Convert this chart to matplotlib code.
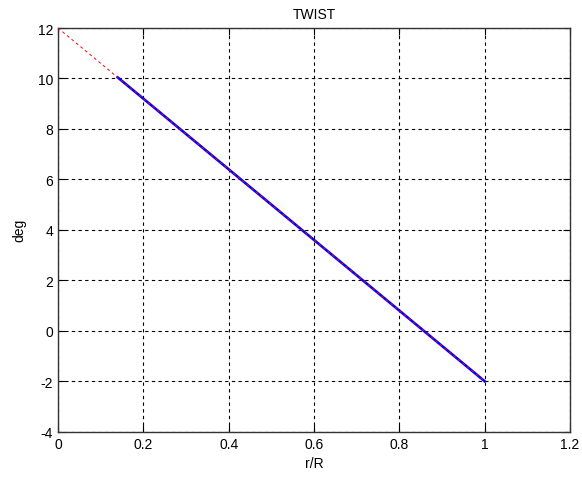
import matplotlib.pyplot as plt

# dados
r_ext = [0.0, 1.0]
twist_ext = [12.0, -2.0]
r_pa = [0.14, 1.0]
twist_pa = [10.04, -2.0]

x_ticks = [0, 0.2, 0.4, 0.6, 0.8, 1, 1.2]
x_labels = ['0', '0.2', '0.4', '0.6', '0.8', '1', '1.2']
y_ticks = [-4, -2, 0, 2, 4, 6, 8, 10, 12]

plt.rcParams['font.family'] = ['Liberation Sans', 'DejaVu Sans']
plt.rcParams['axes.unicode_minus'] = False

fig = plt.figure(figsize=(5.82, 4.81), dpi=100)
ax = fig.add_axes([0.0997, 0.1004, 0.8797, 0.8393])

ax.plot(r_ext, twist_ext, color='red', linestyle=(0, (3, 3)), linewidth=0.7, zorder=3)
ax.plot(r_pa, twist_pa, color='blue', linewidth=1.9, zorder=2)

ax.set_xlim(0, 1.2)
ax.set_ylim(-4, 12)
ax.set_xticks(x_ticks)
ax.set_xticklabels(x_labels)
ax.set_yticks(y_ticks)
ax.grid(True, color='black', linestyle=(0, (3, 3)), linewidth=0.8)
ax.tick_params(direction='in', top=True, right=True, labelsize=10, length=5)
for s in ax.spines.values():
    s.set_color('#333333')
    s.set_linewidth(1.0)

ax.set_title('TWIST', fontsize=10, pad=7)
ax.set_xlabel('r/R', fontsize=10, labelpad=4)
ax.set_ylabel('deg', fontsize=10, labelpad=8)

fig.savefig('out.png', dpi=100)
